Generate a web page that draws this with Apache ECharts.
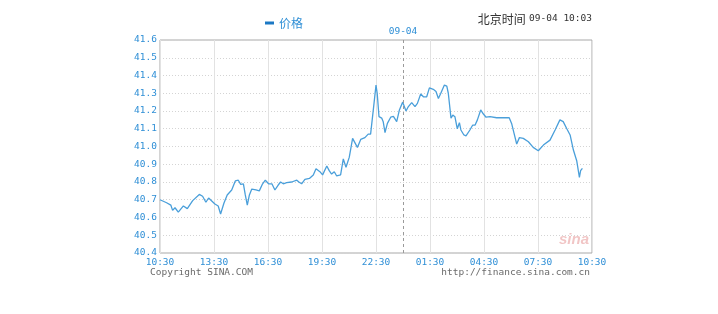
<!DOCTYPE html>
<html>
<head>
<meta charset="utf-8">
<script src="https://cdn.jsdelivr.net/npm/echarts@6/dist/echarts.min.js"></script>
<style>html,body{margin:0;padding:0;background:#fff}#c{width:718px;height:314px}</style>
</head>
<body>
<div id="c"></div>
<script>
// minutes after 10:30 (09-03)
var minutes = [0,6,22,36,42,50,61,78,91,109,131,142,153,162,183,194,202,213,224,239,251,261,269,278,284,291,298,306,320,331,342,351,362,373,383,394,402,411,422,439,456,463,472,483,498,511,520,533,542,556,564,572,581,589,602,611,620,631,642,658,669,683,694,702,711,720,724,730,739,744,750,758,769,778,789,798,809,820,828,839,850,858,869,878,889,898,911,920,928,936,948,956,961,970,976,983,991,998,1003,1013,1020,1033,1042,1050,1058,1069,1078,1087,1100,1122,1144,1164,1172,1180,1189,1198,1211,1228,1244,1261,1278,1300,1317,1333,1344,1356,1367,1378,1389,1398,1402,1408];
var prices = [40.70,40.70,40.683,40.67,40.64,40.655,40.63,40.665,40.65,40.695,40.73,40.72,40.686,40.71,40.676,40.665,40.62,40.68,40.727,40.755,40.806,40.81,40.787,40.79,40.73,40.67,40.727,40.76,40.755,40.75,40.79,40.81,40.79,40.79,40.755,40.783,40.80,40.79,40.796,40.80,40.81,40.80,40.79,40.815,40.82,40.84,40.875,40.858,40.84,40.89,40.864,40.845,40.858,40.834,40.84,40.93,40.883,40.94,41.046,40.995,41.04,41.05,41.07,41.07,41.206,41.346,41.30,41.168,41.16,41.14,41.078,41.13,41.165,41.17,41.14,41.206,41.25,41.20,41.225,41.247,41.225,41.243,41.296,41.28,41.28,41.33,41.322,41.31,41.27,41.30,41.346,41.34,41.30,41.16,41.177,41.168,41.10,41.134,41.093,41.065,41.06,41.093,41.12,41.12,41.15,41.206,41.183,41.165,41.168,41.162,41.162,41.162,41.13,41.075,41.014,41.05,41.046,41.027,40.995,40.976,41.008,41.036,41.093,41.15,41.14,41.10,41.065,40.98,40.92,40.826,40.864,40.877];
var xTickLabels = ['10:30','13:30','16:30','19:30','22:30','01:30','04:30','07:30','10:30'];
var dayMarkLabel = '09-04';
var dayMarkMinute = 810;
var seriesName = '价格';
var headerLabel = '北京时间';
var headerTime = '09-04 10:03';

var blue = '#2f8fd6';
var mono = '"DejaVu Sans Mono", monospace';
var data = minutes.map(function (m, i) { return [m, prices[i]]; });

var chart = echarts.init(document.getElementById('c'), null, {renderer: 'canvas'});
chart.setOption({
  animation: false,
  backgroundColor: '#fff',
  grid: {left: 160, right: 126, top: 40, bottom: 61, show: true, borderColor: '#a8a8a8', borderWidth: 1},
  legend: {
    data: [seriesName], left: 260, top: 12, itemWidth: 9, itemHeight: 3, itemGap: 4,
    icon: 'rect',
    textStyle: {color: blue, fontSize: 12, fontFamily: '"Noto Sans CJK SC", sans-serif'}
  },
  xAxis: {
    type: 'value', min: 0, max: 1440, interval: 180,
    axisLine: {show: false}, axisTick: {show: false},
    splitLine: {show: true, lineStyle: {color: '#e2e2e2', width: 1, type: 'solid'}},
    axisLabel: {
      color: blue, fontSize: 9.5, fontFamily: mono, margin: 5,
      formatter: function (v) { return xTickLabels[Math.round(v / 180)]; }
    }
  },
  yAxis: {
    type: 'value', min: 40.4, max: 41.6, interval: 0.1,
    axisLine: {show: false}, axisTick: {show: false},
    splitLine: {show: true, lineStyle: {color: '#d4d4d4', width: 1, type: [1, 2]}},
    axisLabel: {
      color: blue, fontSize: 9.5, fontFamily: mono, margin: 3,
      formatter: function (v) { return v.toFixed(1); }
    }
  },
  series: [{
    name: seriesName, type: 'line', data: data, showSymbol: false, symbol: 'none',
    lineStyle: {color: '#4a9fda', width: 1.3}, itemStyle: {color: '#1b78c4'},
    markLine: {
      silent: true, symbol: ['none', 'none'],
      lineStyle: {color: '#9a9a9a', type: [3, 3], width: 1},
      label: {show: true, position: 'end', formatter: dayMarkLabel, color: blue, fontSize: 9.5, fontFamily: mono, distance: 3},
      data: [{xAxis: dayMarkMinute}]
    }
  }],
  graphic: [
    {type: 'text', right: 126, top: 13, style: {
      rich: {
        a: {fontSize: 12, fontFamily: '"Noto Sans CJK SC", sans-serif', fill: '#333'},
        b: {fontSize: 9.5, fontFamily: mono, fill: '#333'}
      },
      text: '{a|' + headerLabel + '} {b|' + headerTime + '}'
    }},
    {type: 'text', left: 150, top: 268, style: {text: 'Copyright SINA.COM', fontSize: 9.5, fontFamily: mono, fill: '#6a6a6a'}},
    {type: 'text', right: 128, top: 268, style: {text: 'http://finance.sina.com.cn', fontSize: 9.5, fontFamily: mono, fill: '#6a6a6a'}},
    {type: 'text', left: 559, top: 232, style: {text: 'sina', fontSize: 15, fontWeight: 'bold', fontStyle: 'italic', fontFamily: 'Arial, sans-serif', fill: 'rgba(215,90,90,0.35)'}}
  ]
});
</script>
</body>
</html>
